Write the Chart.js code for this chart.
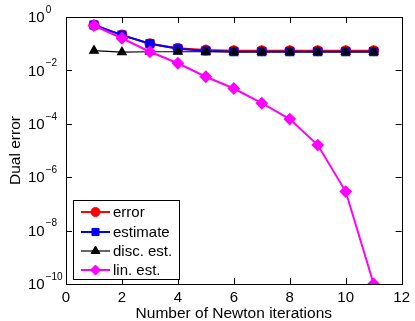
<!DOCTYPE html>
<html>
<head>
<meta charset="utf-8">
<script src="https://cdn.jsdelivr.net/npm/chart.js@4/dist/chart.umd.min.js"></script>
<style>
  html, body { margin: 0; padding: 0; background: #fff; }
  #wrap { width: 415px; height: 321px; position: relative; }
</style>
</head>
<body>
<div id="wrap"><canvas id="myChart"></canvas></div>
<script>
// data
const iterations = [1, 2, 3, 4, 5, 6, 7, 8, 9, 10, 11];
const errorVals = [0.5, 0.21, 0.10, 0.067, 0.058, 0.055, 0.055, 0.055, 0.055, 0.055, 0.055];
const estimateVals = [0.5, 0.21, 0.10, 0.065, 0.053, 0.05, 0.05, 0.05, 0.05, 0.05, 0.05];
const discVals = [0.055, 0.048, 0.05, 0.05, 0.05, 0.05, 0.05, 0.05, 0.05, 0.05, 0.05];
const linVals = [0.48, 0.16, 0.05, 0.0185, 0.0058, 0.0021, 5.9e-4, 1.5e-4, 1.6e-5, 2.9e-7, 1e-10];
const xTicks = [0, 2, 4, 6, 8, 10, 12];
const yTicks = [1, 1e-2, 1e-4, 1e-6, 1e-8, 1e-10];
const yExps = ["0", "\u22122", "\u22124", "\u22126", "\u22128", "\u221210"];
const seriesNames = ["error", "estimate", "disc. est.", "lin. est."];

const FONT = "'Liberation Sans', Arial, sans-serif";

function pts(vals) {
  return iterations.map((x, i) => ({ x: x, y: vals[i] }));
}

const frame = {
  id: "frame",
  afterDraw(chart) {
    const ctx = chart.ctx;
    const a = chart.chartArea;
    const xs = chart.scales.x, ys = chart.scales.y;
    ctx.save();
    ctx.strokeStyle = "#000";
    ctx.lineWidth = 1;
    ctx.strokeRect(Math.round(a.left) + 0.5, Math.round(a.top) + 0.5,
      Math.round(a.right - a.left), Math.round(a.bottom - a.top));
    // inward tick marks
    ctx.beginPath();
    xTicks.slice(1, -1).forEach(v => {
      const px = Math.round(xs.getPixelForValue(v)) + 0.5;
      ctx.moveTo(px, a.bottom); ctx.lineTo(px, a.bottom - 6);
      ctx.moveTo(px, a.top); ctx.lineTo(px, a.top + 6);
    });
    yTicks.slice(1, -1).forEach(v => {
      const py = Math.round(ys.getPixelForValue(v)) + 0.5;
      ctx.moveTo(a.left, py); ctx.lineTo(a.left + 6, py);
      ctx.moveTo(a.right, py); ctx.lineTo(a.right - 6, py);
    });
    ctx.stroke();
    // y tick labels with exponent
    ctx.fillStyle = "#000";
    ctx.textBaseline = "middle";
    ctx.textAlign = "left";
    yTicks.forEach((v, i) => {
      const py = ys.getPixelForValue(v);
      ctx.font = "15px " + FONT;
      ctx.fillText("10", 28, py + 1);
      const w = ctx.measureText("10").width;
      ctx.font = "10px " + FONT;
      ctx.fillText(yExps[i], 28 + w + 1, py - 7);
    });
    // legend
    const lx = 73.5, ly = 200.5, lw = 106, lh = 79;
    ctx.fillStyle = "#fff";
    ctx.fillRect(lx, ly, lw, lh);
    ctx.strokeStyle = "#000";
    ctx.lineWidth = 1;
    ctx.strokeRect(lx, ly, lw, lh);
    const rows = [212, 232, 251, 270];
    chart.data.datasets.forEach((ds, i) => {
      const y = rows[i];
      ctx.strokeStyle = ds.borderColor;
      ctx.lineWidth = ds.borderWidth;
      ctx.beginPath();
      ctx.moveTo(81, y); ctx.lineTo(110, y);
      ctx.stroke();
      ctx.fillStyle = ds.pointBackgroundColor;
      ctx.strokeStyle = ds.pointBorderColor;
      ctx.lineWidth = 1;
      Chart.helpers.drawPoint(ctx, {
        pointStyle: ds.pointStyle,
        radius: ds.pointRadius,
        borderWidth: 1,
        rotation: 0
      }, 95.5, y);
      ctx.fillStyle = "#000";
      ctx.font = "15px " + FONT;
      ctx.textAlign = "left";
      ctx.fillText(seriesNames[i], 113, y + 1);
    });
    ctx.restore();
  }
};

function makeSet(label, vals, color, style, radius, width, order) {
  return {
    label: label,
    data: pts(vals),
    borderColor: color,
    backgroundColor: color,
    pointBackgroundColor: color,
    pointBorderColor: color,
    pointStyle: style,
    pointRadius: radius,
    borderWidth: width,
    order: order
  };
}

const chart = new Chart(document.getElementById("myChart"), {
  type: "line",
  data: {
    datasets: [
      makeSet(seriesNames[0], errorVals, "#ff0000", "circle", 4.5, 2, 3),
      makeSet(seriesNames[1], estimateVals, "#0000ff", "rect", 5, 2, 2),
      makeSet(seriesNames[2], discVals, "#000000", "triangle", 5, 1.2, 1),
      makeSet(seriesNames[3], linVals, "#ff00ff", "rectRot", 5, 2, 0)
    ]
  },
  options: {
    responsive: true,
    maintainAspectRatio: false,
    animation: false,
    events: [],
    layout: { padding: { left: 0, right: 11, top: 17, bottom: 0 } },
    plugins: { legend: { display: false }, tooltip: { enabled: false } },
    scales: {
      x: {
        type: "linear",
        min: 0, max: 12,
        afterBuildTicks: s => { s.ticks = xTicks.map(v => ({ value: v })); },
        afterFit: s => { s.height = 37; },
        grid: { display: false, drawTicks: false },
        border: { display: false },
        ticks: { color: "#000", font: { family: FONT, size: 15 }, padding: 5, maxRotation: 0 },
        title: { display: true, text: "Number of Newton iterations", color: "#000",
          font: { family: FONT, size: 15.5 }, padding: { top: 0, bottom: -2 } }
      },
      y: {
        type: "logarithmic",
        min: 1e-10, max: 1,
        afterBuildTicks: s => { s.ticks = yTicks.map(v => ({ value: v })); },
        afterFit: s => { s.width = 66; },
        grid: { display: false, drawTicks: false },
        border: { display: false },
        ticks: { callback: () => "", padding: 0 },
        title: { display: true, text: "Dual error", color: "#000",
          font: { family: FONT, size: 15.5 }, padding: { top: 6, bottom: 0 } }
      }
    }
  },
  plugins: [frame]
});
</script>
</body>
</html>
